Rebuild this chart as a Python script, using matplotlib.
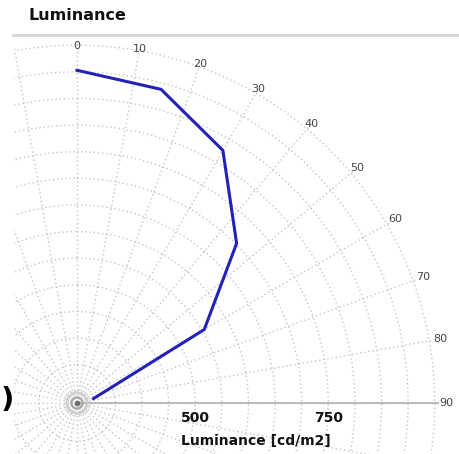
import numpy as np
import matplotlib
matplotlib.use("Agg")
import matplotlib.pyplot as plt
from matplotlib.patches import Rectangle
from matplotlib.transforms import offset_copy

# luminance vs viewing angle (deg)
angles = [0, 15, 30, 45, 60, 75]
luminance = [903, 888, 826, 702, 554, 310]

angle_ticks = [0, 10, 20, 30, 40, 50, 60, 70, 80, 90]
radial_grid = [300, 350, 400, 450, 500, 550, 600, 650, 700, 750, 800, 850, 900, 950]
radial_labels = [500, 750]

W, H = 459, 454
fig = plt.figure(figsize=(W / 100, H / 100), dpi=100)
fig.patch.set_facecolor("white")

# polar axes is much bigger than the view, centre sits near the bottom left
cx, cy, R = 77, 403, 362
ax = fig.add_axes([(cx - R) / W, (H - cy - R) / H, 2 * R / W, 2 * R / H],
                  projection="polar")
ax.set_theta_zero_location("N")
ax.set_theta_direction(-1)
rmin, rmax = 278, 958
ax.set_rlim(rmin, rmax)
ax.spines["polar"].set_visible(False)
ax.set_facecolor("white")

ax.set_thetagrids(np.arange(0, 360, 10), [""] * 36)
ax.set_rgrids(radial_grid, [""] * len(radial_grid))
ax.grid(True, color="#c4c4c4", linestyle=(0, (1, 2)), linewidth=1)
ax.tick_params(length=0)

# solid radial axis along 90 deg
ax.plot([np.pi / 2, np.pi / 2], [rmin, rmax], color="#b0b0b0", lw=1.2, zorder=2)

# little target at the centre
ax.scatter([0], [rmin], s=230, facecolors="none", edgecolors="#cccccc", lw=1.2, zorder=3)
ax.scatter([0], [rmin], s=70, facecolors="none", edgecolors="#a8a8a8", lw=1.5, zorder=3)
ax.scatter([0], [rmin], s=10, color="#707070", zorder=3)

ax.plot(np.radians(angles), luminance, color="#2222b8", lw=2.2, zorder=4,
        solid_joinstyle="miter")

# angle labels just outside the outer circle
px_per_unit = R / (rmax - rmin)
for a in angle_ticks:
    rp = 357 + 12 * np.sin(np.radians(a))
    ax.text(np.radians(a), rmin + rp / px_per_unit, str(a), ha="center", va="center",
            fontsize=8, color="#444444", clip_on=False)

# radial labels under the 90 deg axis
below = offset_copy(ax.transData, fig=fig, y=-15, units="dots")
for v in radial_labels:
    ax.text(np.pi / 2, v, str(v), transform=below, ha="center", va="center",
            fontsize=10, fontweight="bold", color="#111111", clip_on=False)

fig.text(256 / W, 1 - 441 / H, "Luminance [cd/m2]", ha="center", va="center",
         fontsize=10, fontweight="bold", color="#111111")

# crop of the surrounding panel
fig.add_artist(Rectangle((0, 0), 13 / W, 1, transform=fig.transFigure,
                         color="white", zorder=5))
fig.add_artist(Rectangle((0, 1 - 34 / H), 1, 34 / H, transform=fig.transFigure,
                         color="white", zorder=5))
fig.add_artist(plt.Line2D([13 / W, 1], [1 - 34.5 / H, 1 - 34.5 / H],
                          transform=fig.transFigure, color="#d6d6d6", lw=2, zorder=6))
fig.text(29 / W, 1 - 15 / H, "Luminance", ha="left", va="center", fontsize=11.5,
         fontweight="bold", color="#111111", zorder=7)
fig.text(1 / W, 1 - 400 / H, ")", ha="left", va="center", fontsize=21,
         fontweight="bold", color="black", zorder=7)

fig.savefig("out.png", dpi=100, facecolor="white")
